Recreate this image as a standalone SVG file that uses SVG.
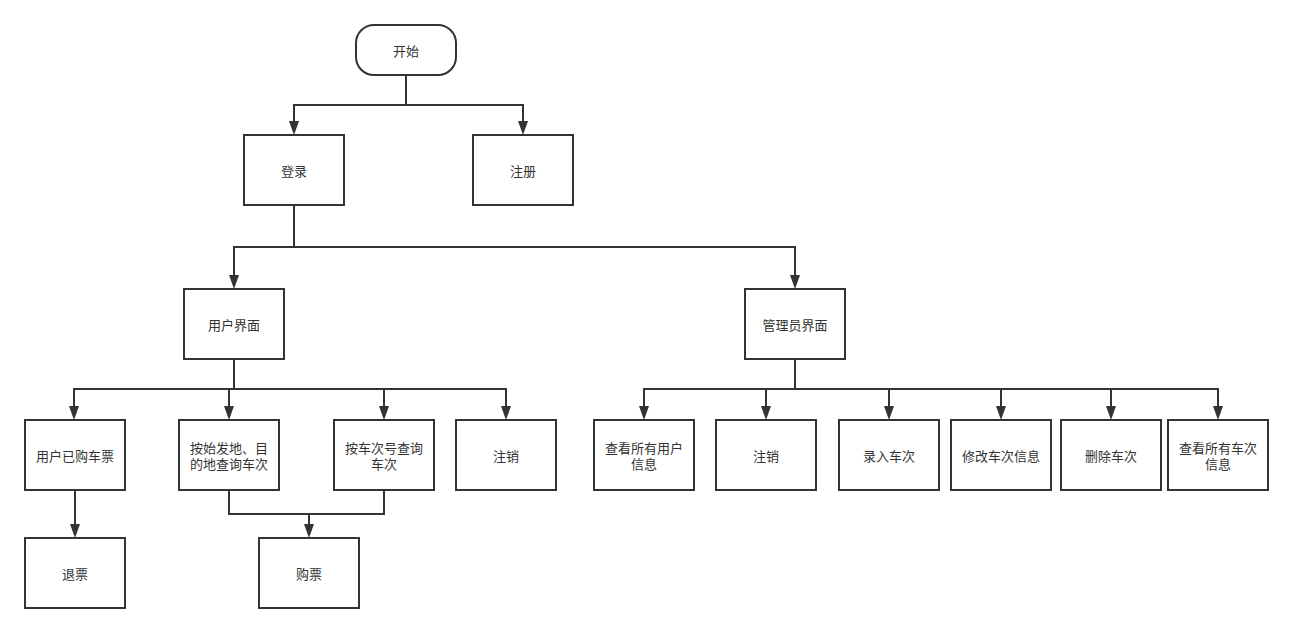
<svg xmlns="http://www.w3.org/2000/svg" width="1293" height="633" viewBox="0 0 1293 633">
<style>
.n{fill:#fff;stroke:#333;stroke-width:2}
.t{font-family:"Liberation Sans","Noto Sans CJK SC",sans-serif;font-size:13px;fill:#333;text-anchor:middle;dominant-baseline:central}
.c{fill:none;stroke:#333;stroke-width:2}
</style>
<rect width="1293" height="633" fill="#fff"/>
<g id="connectors">
<path class="c" d="M406,75 V105 H294 V121"/>
<path class="c" d="M406,105 H523 V121"/>
<path class="c" d="M294,205 V247 H234 V275"/>
<path class="c" d="M294,247 H795 V275"/>
<path class="c" d="M234,359 V389 H74 V406"/>
<path class="c" d="M229,389 V406"/>
<path class="c" d="M234,389 H384 V406"/>
<path class="c" d="M384,389 H506 V406"/>
<path class="c" d="M795,359 V389 H644 V406"/>
<path class="c" d="M766,389 V406"/>
<path class="c" d="M795,389 H1218 V406"/>
<path class="c" d="M889,389 V406"/>
<path class="c" d="M1001,389 V406"/>
<path class="c" d="M1111,389 V406"/>
<path class="c" d="M75,490 V524"/>
<path class="c" d="M229,490 V514 H384 V490"/>
<path class="c" d="M309,514 V524"/>
<g fill="#333">
<path d="M289,121 H299 L294,135 Z"/>
<path d="M518,121 H528 L523,135 Z"/>
<path d="M229,275 H239 L234,289 Z"/>
<path d="M790,275 H800 L795,289 Z"/>
<path d="M69,406 H79 L74,420 Z"/>
<path d="M224,406 H234 L229,420 Z"/>
<path d="M379,406 H389 L384,420 Z"/>
<path d="M501,406 H511 L506,420 Z"/>
<path d="M639,406 H649 L644,420 Z"/>
<path d="M761,406 H771 L766,420 Z"/>
<path d="M884,406 H894 L889,420 Z"/>
<path d="M996,406 H1006 L1001,420 Z"/>
<path d="M1106,406 H1116 L1111,420 Z"/>
<path d="M1213,406 H1223 L1218,420 Z"/>
<path d="M70,524 H80 L75,538 Z"/>
<path d="M304,524 H314 L309,538 Z"/>
</g>
</g>
<g id="start"><rect class="n" x="356" y="25" width="100" height="50" rx="18"/><text class="t" x="406" y="51">开始</text></g>
<g id="login"><rect class="n" x="244" y="135" width="100" height="70"/><text class="t" x="294" y="171">登录</text></g>
<g id="register"><rect class="n" x="473" y="135" width="100" height="70"/><text class="t" x="523" y="171">注册</text></g>
<g id="user"><rect class="n" x="184" y="289" width="100" height="70"/><text class="t" x="234" y="325">用户界面</text></g>
<g id="admin"><rect class="n" x="745" y="289" width="100" height="70"/><text class="t" x="795" y="325">管理员界面</text></g>
<g id="bought"><rect class="n" x="25" y="420" width="100" height="70"/><text class="t" x="75" y="456">用户已购车票</text></g>
<g id="q1"><rect class="n" x="179" y="420" width="100" height="70"/><text class="t" x="229" y="448">按始发地、目</text><text class="t" x="229" y="464">的地查询车次</text></g>
<g id="q2"><rect class="n" x="334" y="420" width="100" height="70"/><text class="t" x="384" y="448">按车次号查询</text><text class="t" x="384" y="464">车次</text></g>
<g id="logout1"><rect class="n" x="456" y="420" width="100" height="70"/><text class="t" x="506" y="456">注销</text></g>
<g id="a1"><rect class="n" x="594" y="420" width="100" height="70"/><text class="t" x="644" y="448">查看所有用户</text><text class="t" x="644" y="464">信息</text></g>
<g id="a2"><rect class="n" x="716" y="420" width="100" height="70"/><text class="t" x="766" y="456">注销</text></g>
<g id="a3"><rect class="n" x="839" y="420" width="100" height="70"/><text class="t" x="889" y="456">录入车次</text></g>
<g id="a4"><rect class="n" x="951" y="420" width="100" height="70"/><text class="t" x="1001" y="456">修改车次信息</text></g>
<g id="a5"><rect class="n" x="1061" y="420" width="100" height="70"/><text class="t" x="1111" y="456">删除车次</text></g>
<g id="a6"><rect class="n" x="1168" y="420" width="100" height="70"/><text class="t" x="1218" y="448">查看所有车次</text><text class="t" x="1218" y="464">信息</text></g>
<g id="refund"><rect class="n" x="25" y="538" width="100" height="70"/><text class="t" x="75" y="574">退票</text></g>
<g id="buy"><rect class="n" x="259" y="538" width="100" height="70"/><text class="t" x="309" y="574">购票</text></g>
</svg>
